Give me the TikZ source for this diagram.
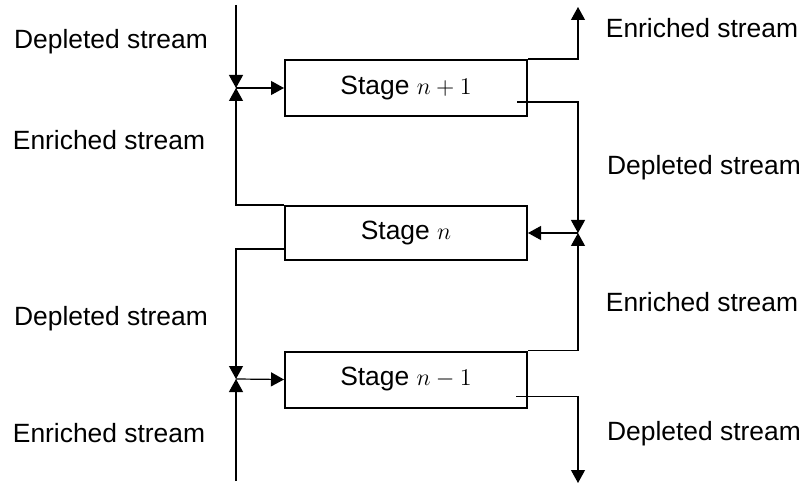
\documentclass[tikz,border=0pt]{standalone}
\usepackage{fontspec}
\setmainfont{Liberation Sans}
\usepackage{tikz}
\usetikzlibrary{arrows.meta, positioning}
\tikzstyle{stagebox} = [rectangle, minimum width=121pt, minimum height=28pt, text centered, draw=black, line width=1pt, font=\fontsize{13.2}{15}\selectfont]
\tikzstyle{stream} = [font=\fontsize{13.2}{15}\selectfont, inner sep=0pt]
\tikzstyle{arrow} = [line width=0.6pt, -{Triangle[length=6.5pt, width=7pt]}]

\begin{document}
\begin{tikzpicture}[x=0.5pt, y=-0.5pt]
  \useasboundingbox (0,0) rectangle (803,486);
  \node (stageup) [stagebox] at (406,88){Stage $n+1$};
  \node (stage) [stagebox, minimum height=27pt] at (406,233){Stage $n$};
  \node (stagedown) [stagebox] at (406,379.5){Stage $n-1$};
  % junctions and free ends
  \coordinate (jtop) at (236,88);
  \coordinate (jright) at (578,233);
  \coordinate (jbot) at (236,379);
  \coordinate (intop) at (236,5);
  \coordinate (inbot) at (236,481);
  \coordinate (outtop) at (578,7);
  \coordinate (outbot) at (578,483);
  % labels
  \node (deptl) [stream] at (111,42){Depleted stream};
  \node (enrtl) [stream] at (109,140){Enriched stream};
  \node (depbl) [stream] at (111,319){Depleted stream};
  \node (enrbl) [stream] at (109,433){Enriched stream};
  \node (enrtr) [stream] at (702,28){Enriched stream};
  \node (deptr) [stream] at (704,168){Depleted stream};
  \node (enrbr) [stream] at (702,302){Enriched stream};
  \node (depbr) [stream] at (704,434){Depleted stream};
  % streams
  \draw[arrow](intop) -- (jtop);
  \draw[arrow](stage.north west) -| (jtop);
  \draw[arrow](jtop) -- (stageup.west);
  \draw[arrow](stageup.north east) -| (outtop);
  \draw[arrow]([shift={(-11,14)}]stageup.east) -| (jright);
  \draw[arrow](stagedown.north east) -| (jright);
  \draw[arrow](jright) -- (stage.east);
  \draw[arrow]([shift={(0,16)}]stage.west) -| (jbot);
  \draw[arrow](inbot) -- (jbot);
  \draw[arrow](jbot) -- (stagedown.west);
  \draw[arrow]([shift={(-12,17)}]stagedown.east) -| (outbot);
\end{tikzpicture}
\end{document}
